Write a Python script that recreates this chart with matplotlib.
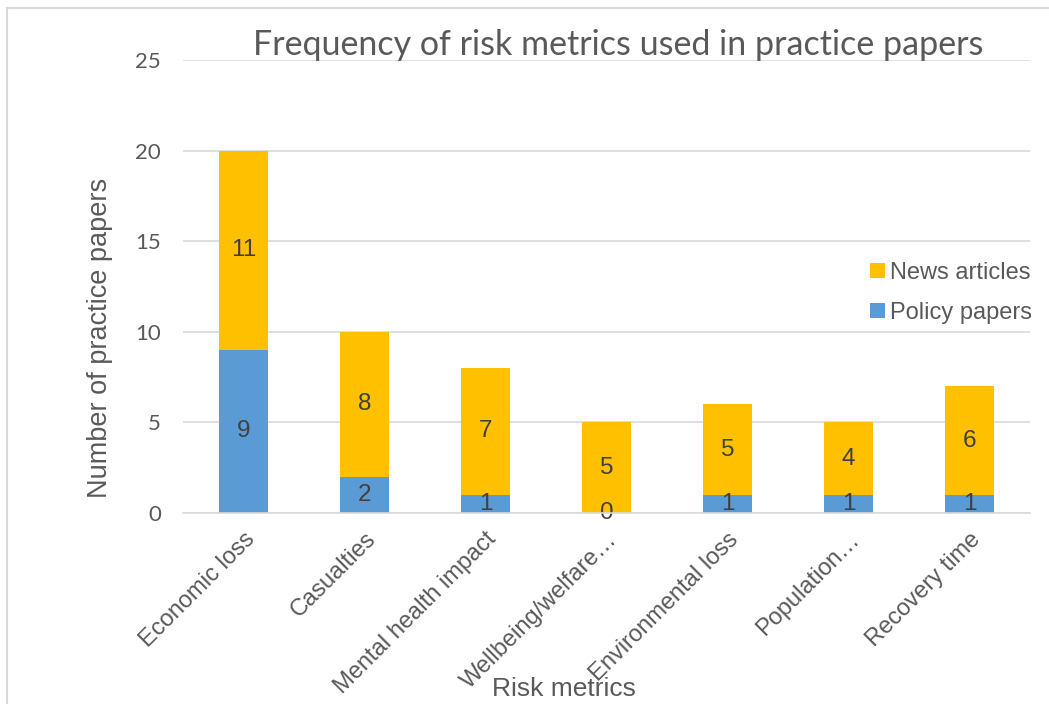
import numpy as np
import matplotlib.pyplot as plt
from matplotlib.patches import Rectangle

categories = ["Economic loss", "Casualties", "Mental health impact", "Wellbeing/welfare\u2026",
              "Environmental loss", "Population\u2026", "Recovery time"]
policy = [9, 2, 1, 0, 1, 1, 1]
news = [11, 8, 7, 5, 5, 4, 6]

blue = "#5b9bd5"
gold = "#ffc000"
txt = "#595959"
lbl = "#404040"

fig = plt.figure(figsize=(10.49, 7.04), dpi=100)
ax = fig.add_axes([183/1049, 191/704, 847/1049, 453/704])

x = np.arange(len(categories))
b1 = ax.bar(x, policy, 0.4, color=blue, label="Policy papers", zorder=3)
b2 = ax.bar(x, news, 0.4, bottom=policy, color=gold, label="News articles", zorder=3)

for i in range(len(x)):
    ax.text(x[i], policy[i] / 2, str(policy[i]), ha="center", va="center",
            fontsize=17.5, color=lbl, family="Liberation Sans", zorder=4)
    ax.text(x[i], policy[i] + news[i] / 2, str(news[i]), ha="center", va="center",
            fontsize=17.5, color=lbl, family="Liberation Sans", zorder=4)

ax.set_xlim(-0.5, len(categories) - 0.5)
ax.set_ylim(0, 25)
ax.set_yticks([0, 5, 10, 15, 20, 25])
ax.yaxis.grid(True, color="#d9d9d9", linewidth=1.2, zorder=0)
for s in ["top", "right", "left"]:
    ax.spines[s].set_visible(False)
ax.spines["bottom"].set_color("#d9d9d9")
ax.spines["bottom"].set_linewidth(1.2)
ax.spines["bottom"].set_zorder(5)
ax.tick_params(axis="y", length=0, pad=16, labelsize=16, labelcolor=txt)
ax.tick_params(axis="x", length=0, pad=11)
for t in ax.get_yticklabels():
    t.set_family("Lato")
ax.set_xticks(x)
ax.set_xticklabels(categories, rotation=45, ha="right", va="top", rotation_mode="anchor",
                   fontsize=17, color=txt, family="Liberation Sans")

h, l = ax.get_legend_handles_labels()
ax.legend(h[::-1], l[::-1], loc="center right", bbox_to_anchor=(1.028, 0.486), frameon=False,
          labelcolor=txt, prop={"family": "Liberation Sans", "size": 17},
          handlelength=0.6, handleheight=0.6, handletextpad=0.25, labelspacing=0.75)

fig.text(618/1049, 1 - 45/704, "Frequency of risk metrics used in practice papers",
         ha="center", va="center", fontsize=24.5, color=txt, family="Lato")
fig.text(100/1049, 1 - 338/704, "Number of practice papers", rotation=90,
         ha="center", va="center", fontsize=19.5, color=txt, family="Liberation Sans")
fig.text(564/1049, 1 - 689/704, "Risk metrics",
         ha="center", va="center", fontsize=19, color=txt, family="Liberation Sans")

fig.add_artist(Rectangle((7/1049, -0.1), 1.2, 1 - 8/704 + 0.1, transform=fig.transFigure,
                         fill=False, edgecolor="#d9d9d9", linewidth=1.5))

fig.savefig("out.png", dpi=100)
